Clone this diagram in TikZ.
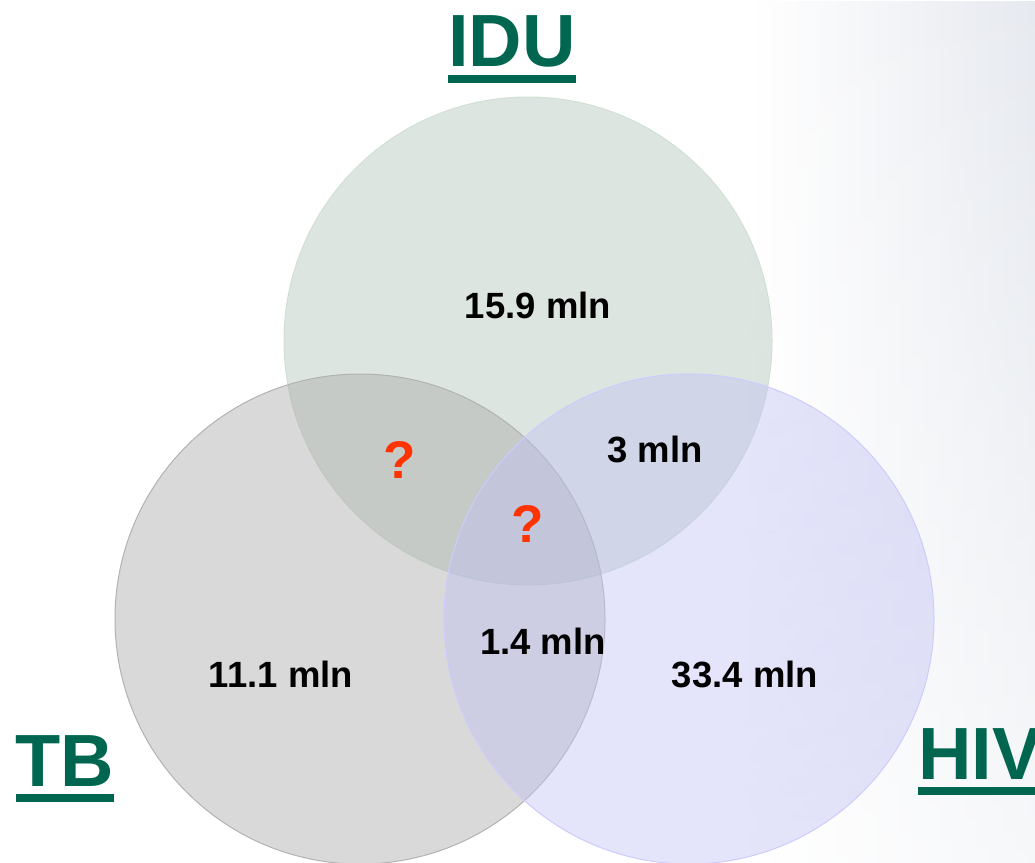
\documentclass[tikz,border=0pt]{standalone}
\usepackage{fontspec}
\setmainfont{Liberation Sans}
\usepackage{xcolor}
\usetikzlibrary{fadings}
\definecolor{titlegreen}{HTML}{00664F}
\definecolor{iducol}{HTML}{B0C3B9}
\definecolor{tbcol}{HTML}{A7A7A7}
\definecolor{hivcol}{HTML}{C0C0F3}
\definecolor{askcol}{HTML}{FF3300}
\definecolor{bgtint}{HTML}{E6E9EF}
\tikzfading[name=fadedown, top color=transparent!0, bottom color=transparent!65]
\newcommand{\grouplabel}[1]{\vtop{\hbox{#1}\kern8pt\hrule height 8pt}}

\begin{document}
\begin{tikzpicture}[x=1pt, y=-1pt,
  setfill/.style={fill=#1, fill opacity=0.43, line width=1pt},
  countlabel/.style={font=\bfseries\fontsize{36.5}{38}\selectfont, inner sep=0pt},
  asklabel/.style={font=\bfseries\fontsize{53}{56}\selectfont, text=askcol, inner sep=0pt},
  grouptitle/.style={font=\bfseries\fontsize{74}{80}\selectfont, text=titlegreen, inner sep=0pt}]
\useasboundingbox (0,0) rectangle (1035,862);
\clip (0,0) rectangle (1035,862);
% faint backdrop on the right
\shade[left color=white, middle color=bgtint!75, right color=bgtint, path fading=fadedown] (750,0) rectangle (1035,862);

% IDU (circle)
\draw[setfill=iducol, draw=green!20!gray!30] (528,341) circle (244);
% TB (circle)
\draw[setfill=tbcol, draw=gray!60] (360,619) circle (245);
% HIV (circle)
\draw[setfill=hivcol, draw=blue!20] (689,619) circle (245);

% counts
\node[countlabel] (idu only) at (538,305) {15.9 mln};
\node[countlabel] (idu hiv) at (655,449) {3 mln};
\node[countlabel] (tb hiv) at (543,641) {1.4 mln};
\node[countlabel] (tb only) at (281,674) {11.1 mln};
\node[countlabel] (hiv only) at (745,674) {33.4 mln};
\node[asklabel] (idu tb) at (400,460) {?};
\node[asklabel] (all three) at (528,524) {?};

% titles
\node[grouptitle, anchor=base] (idu title) at (512,66) {\grouplabel{IDU}};
\node[grouptitle, anchor=base] (tb title) at (65,786) {\grouplabel{TB}};
\node[grouptitle, anchor=base west] (hiv title) at (918,779) {\grouplabel{HIV}};
\end{tikzpicture}
\end{document}
